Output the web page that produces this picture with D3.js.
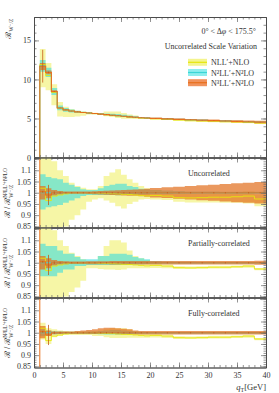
<!DOCTYPE html>
<html lang="en">
<head>
<meta charset="utf-8">
<title>W-/Z ratio scale variation</title>
<script src="https://cdn.jsdelivr.net/npm/d3@7"></script>
<style>
  body { margin: 0; background: #fff; }
  text { font-family: "Liberation Serif", "DejaVu Serif", serif; fill: #333; }
  .axis path { stroke: #444; stroke-width: 0.8; }
  .axis line { stroke: #666; stroke-width: 0.7; }
  .axis text { font-size: 8px; fill: #333; }
</style>
</head>
<body>
<svg width="279" height="393"></svg>
<script>
// bin edges in q_T [GeV]
var edges = [1, 2, 3, 4, 5, 6, 7, 8, 9, 10, 11, 12, 13, 14, 15, 16, 17, 18, 19, 20,
             22, 24, 26, 28, 30, 32, 34, 36, 38, 40];

// main panel: R_{W-/Z}
var orangeMain   = [11.7, 10.9, 8.45, 6.35, 6.1, 5.95, 5.85, 5.77, 5.7, 5.63, 5.56, 5.49, 5.42, 5.35, 5.28, 5.21, 5.15, 5.1, 5.06, 5.01, 4.95, 4.89, 4.83, 4.78, 4.73, 4.68, 4.63, 4.58, 4.53];
var orangeMainLo = [11.2, 10.65, 8.3, 6.28, 6.04, 5.9, 5.81, 5.74, 5.67, 5.6, 5.53, 5.45, 5.38, 5.31, 5.24, 5.16, 5.1, 5.04, 4.99, 4.93, 4.86, 4.79, 4.72, 4.66, 4.6, 4.54, 4.48, 4.42, 4.35];
var orangeMainHi = [12.1, 11.15, 8.6, 6.42, 6.16, 6.0, 5.9, 5.81, 5.74, 5.67, 5.6, 5.54, 5.47, 5.4, 5.33, 5.27, 5.21, 5.16, 5.12, 5.08, 5.04, 4.99, 4.94, 4.9, 4.86, 4.82, 4.78, 4.74, 4.7];
var cyanMain     = [11.75, 10.95, 8.45, 6.35, 6.1, 5.95, 5.85, 5.77, 5.7, 5.63, 5.56, 5.49, 5.42, 5.35, 5.28, 5.21, 5.15, 5.1, 5.06, 5.01, 4.95, 4.89, 4.83, 4.78, 4.73, 4.68, 4.63, 4.58, 4.53];
var cyanMainLo   = [11.0, 10.3, 8.0, 6.05, 5.85, 5.78, 5.72, 5.7, 5.64, 5.58, 5.5, 5.43, 5.37, 5.3, 5.23, 5.16, 5.1, 5.06, 5.02, 4.97, 4.92, 4.86, 4.8, 4.76, 4.71, 4.66, 4.61, 4.56, 4.51];
var cyanMainHi   = [12.5, 11.5, 8.9, 6.65, 6.35, 6.15, 6.0, 5.86, 5.78, 5.7, 5.68, 5.65, 5.6, 5.56, 5.48, 5.37, 5.28, 5.2, 5.14, 5.07, 5.0, 4.93, 4.86, 4.81, 4.76, 4.71, 4.65, 4.6, 4.55];
var yellowMain   = [11.9, 10.5, 8.35, 6.3, 6.08, 5.95, 5.85, 5.77, 5.7, 5.63, 5.55, 5.47, 5.4, 5.33, 5.25, 5.17, 5.1, 5.05, 5.0, 4.95, 4.88, 4.79, 4.72, 4.67, 4.64, 4.58, 4.55, 4.51, 4.41];
var yellowMainLo = [9.0, 8.6, 6.7, 5.25, 5.2, 5.2, 5.25, 5.35, 5.5, 5.5, 5.45, 5.3, 5.2, 5.05, 4.95, 4.98, 4.97, 4.95, 4.95, 4.87, 4.82, 4.7, 4.62, 4.57, 4.52, 4.48, 4.43, 4.39, 4.32];
var yellowMainHi = [13.9, 12.1, 9.4, 7.1, 6.5, 6.2, 6.0, 5.9, 5.8, 5.72, 5.7, 5.9, 5.9, 5.9, 5.7, 5.52, 5.38, 5.2, 5.15, 5.0, 4.95, 4.87, 4.8, 4.76, 4.7, 4.66, 4.62, 4.57, 4.5];
var orangeErrMain = [2.1, 0.1, 0.06, 0.04, 0.03, 0.03, 0.03, 0.03, 0.03, 0.03, 0.03, 0.03, 0.03, 0.03, 0.03, 0.03, 0.03, 0.03, 0.03, 0.03, 0.03, 0.03, 0.03, 0.03, 0.03, 0.03, 0.03, 0.03, 0.03];

// ratio panels: central values (same in every panel)
var yellowRatio = [1.02, 0.965, 0.985, 0.99, 0.995, 1.0, 1.0, 1.0, 1.0, 1.0, 0.998, 0.997, 0.996, 0.995, 0.993, 0.992, 0.99, 0.988, 0.986, 0.988, 0.985, 0.978, 0.977, 0.978, 0.98, 0.98, 0.982, 0.985, 0.972];
var cyanRatio   = [1, 1, 1, 1, 1, 1, 1, 1, 1, 1, 1, 1, 1, 1, 1, 1, 1, 1, 1, 1, 1, 1, 1, 1, 1, 1, 1, 1, 1];
var orangeRatio = [1.004, 0.99, 1.0, 1.0, 1.0, 1.0, 1.0, 1.0, 1.0, 1.0, 1.0, 1.0, 1.0, 1.0, 1.0, 1.0, 1.0, 1.0, 1.0, 1.0, 1.0, 1.0, 1.0, 1.0, 1.0, 1.0, 1.0, 1.0, 1.0];
var orangeErrRatio = [0.004, 0.045, 0.006, 0.004, 0.003, 0.003, 0.003, 0.003, 0.003, 0.003, 0.003, 0.003, 0.003, 0.003, 0.003, 0.003, 0.003, 0.003, 0.003, 0.003, 0.003, 0.003, 0.003, 0.003, 0.003, 0.003, 0.003, 0.003, 0.003];

// uncorrelated
var uncYellowLo = [0.75, 0.75, 0.82, 0.845, 0.85, 0.88, 0.9, 0.925, 0.96, 0.97, 0.975, 0.965, 0.955, 0.94, 0.93, 0.95, 0.96, 0.97, 0.972, 0.97, 0.968, 0.96, 0.956, 0.956, 0.956, 0.955, 0.955, 0.952, 0.94];
var uncYellowHi = [1.25, 1.25, 1.14, 1.1, 1.075, 1.045, 1.03, 1.022, 1.015, 1.015, 1.03, 1.075, 1.09, 1.105, 1.08, 1.06, 1.045, 1.03, 1.02, 1.012, 1.005, 0.998, 0.997, 0.998, 1.0, 1.0, 1.002, 1.005, 0.992];
var uncCyanLo   = [0.925, 0.935, 0.94, 0.945, 0.955, 0.965, 0.975, 0.985, 0.99, 0.99, 0.99, 0.99, 0.99, 0.989, 0.99, 0.99, 0.991, 0.992, 0.993, 0.994, 0.994, 0.995, 0.995, 0.996, 0.996, 0.996, 0.997, 0.997, 0.997];
var uncCyanHi   = [1.082, 1.07, 1.065, 1.06, 1.045, 1.035, 1.025, 1.015, 1.012, 1.012, 1.02, 1.03, 1.035, 1.04, 1.04, 1.03, 1.025, 1.018, 1.015, 1.012, 1.01, 1.008, 1.006, 1.005, 1.005, 1.004, 1.004, 1.004, 1.004];
var uncOrangeLo = [0.97, 0.975, 0.988, 0.992, 0.994, 0.995, 0.995, 0.995, 0.994, 0.993, 0.992, 0.991, 0.99, 0.989, 0.988, 0.987, 0.986, 0.984, 0.982, 0.979, 0.976, 0.973, 0.97, 0.967, 0.964, 0.961, 0.958, 0.955, 0.952];
var uncOrangeHi = [1.03, 1.02, 1.012, 1.008, 1.006, 1.005, 1.005, 1.005, 1.006, 1.007, 1.008, 1.009, 1.01, 1.011, 1.012, 1.013, 1.014, 1.016, 1.018, 1.021, 1.024, 1.027, 1.03, 1.033, 1.036, 1.039, 1.042, 1.045, 1.048];

// partially correlated
var parYellowLo = [0.75, 0.75, 0.8, 0.83, 0.85, 0.87, 0.89, 0.92, 0.975, 0.975, 0.972, 0.97, 0.97, 0.968, 0.97, 0.975, 0.975, 0.975, 0.975, 0.976, 0.975, 0.972, 0.972, 0.973, 0.974, 0.974, 0.976, 0.978, 0.967];
var parYellowHi = [1.25, 1.25, 1.145, 1.1, 1.075, 1.045, 1.03, 1.015, 1.005, 1.005, 1.03, 1.075, 1.1, 1.1, 1.09, 1.055, 1.03, 1.02, 1.012, 1.0, 0.992, 0.984, 0.983, 0.984, 0.986, 0.986, 0.988, 0.99, 0.977];
var parCyanLo   = [0.94, 0.94, 0.94, 0.955, 0.97, 0.97, 0.985, 0.985, 0.99, 0.99, 0.99, 0.99, 0.99, 0.99, 0.99, 0.99, 0.992, 0.993, 0.994, 0.995, 0.996, 0.996, 0.997, 0.997, 0.997, 0.997, 0.997, 0.997, 0.997];
var parCyanHi   = [1.085, 1.075, 1.075, 1.055, 1.04, 1.04, 1.025, 1.015, 1.015, 1.015, 1.03, 1.03, 1.04, 1.04, 1.04, 1.035, 1.025, 1.02, 1.015, 1.008, 1.005, 1.004, 1.004, 1.003, 1.003, 1.003, 1.003, 1.003, 1.003];
var parOrangeLo = [0.97, 0.975, 0.988, 0.992, 0.993, 0.994, 0.994, 0.994, 0.993, 0.993, 0.993, 0.993, 0.992, 0.992, 0.992, 0.992, 0.992, 0.992, 0.992, 0.992, 0.992, 0.992, 0.992, 0.992, 0.992, 0.992, 0.992, 0.992, 0.991];
var parOrangeHi = [1.03, 1.02, 1.012, 1.008, 1.007, 1.006, 1.006, 1.006, 1.007, 1.007, 1.007, 1.007, 1.008, 1.008, 1.008, 1.008, 1.008, 1.008, 1.008, 1.008, 1.008, 1.008, 1.008, 1.008, 1.008, 1.008, 1.008, 1.008, 1.009];

// fully correlated
var fulYellowLo = [0.97, 0.95, 0.98, 0.985, 0.99, 0.99, 0.99, 0.99, 0.99, 0.985, 0.985, 0.98, 0.977, 0.977, 0.977, 0.978, 0.978, 0.978, 0.978, 0.979, 0.977, 0.972, 0.972, 0.973, 0.974, 0.974, 0.976, 0.978, 0.967];
var fulYellowHi = [1.045, 1.02, 1.015, 1.01, 1.008, 1.005, 1.005, 1.005, 1.005, 1.008, 1.01, 1.015, 1.02, 1.02, 1.02, 1.015, 1.008, 1.0, 0.995, 0.995, 0.992, 0.984, 0.983, 0.984, 0.986, 0.986, 0.988, 0.99, 0.977];
var fulCyanLo   = [0.985, 0.99, 0.993, 0.995, 0.996, 0.996, 0.996, 0.996, 0.995, 0.994, 0.993, 0.992, 0.992, 0.992, 0.993, 0.994, 0.995, 0.996, 0.997, 0.997, 0.997, 0.997, 0.997, 0.997, 0.997, 0.997, 0.997, 0.997, 0.997];
var fulCyanHi   = [1.015, 1.01, 1.007, 1.005, 1.004, 1.004, 1.004, 1.004, 1.005, 1.006, 1.008, 1.01, 1.012, 1.012, 1.01, 1.008, 1.005, 1.004, 1.003, 1.003, 1.003, 1.003, 1.003, 1.003, 1.003, 1.003, 1.003, 1.003, 1.003];
var fulOrangeLo = [0.975, 0.985, 0.993, 0.994, 0.994, 0.994, 0.994, 0.994, 0.994, 0.994, 0.994, 0.994, 0.994, 0.993, 0.993, 0.994, 0.992, 0.992, 0.992, 0.992, 0.992, 0.992, 0.992, 0.992, 0.992, 0.992, 0.992, 0.992, 0.992];
var fulOrangeHi = [1.03, 1.01, 1.006, 1.006, 1.006, 1.006, 1.008, 1.01, 1.012, 1.016, 1.02, 1.022, 1.022, 1.02, 1.018, 1.015, 1.01, 1.008, 1.008, 1.008, 1.008, 1.008, 1.008, 1.008, 1.008, 1.008, 1.008, 1.008, 1.008];

var seriesNames = ["NLL\u2032+NLO", "N\u00b2LL\u2032+N\u00b2LO", "N\u00b3LL\u2032+N\u00b2LO"];
var panelTitles = ["Uncorrelated", "Partially-correlated", "Fully-correlated"];
var xTickLabels = [0, 5, 10, 15, 20, 25, 30, 35, 40];
var mainTickLabels = [0, 5, 10, 15];
var ratioTickLabels = [0.85, 0.9, 0.95, 1, 1.05, 1.1, 1.15];

// colours
var yellowFill = "#f6f6a6", yellowLine = "#e6e60c";
var cyanFill = "rgba(60,222,222,0.6)", cyanLine = "#3ad6d6";
var orangeFill = "rgba(226,112,32,0.72)", orangeLine = "#e8701c", errColor = "#c65c18";

var svg = d3.select("svg");
var defs = svg.append("defs");

var x = d3.scaleLinear().domain([0, 40]).range([34, 266]);
var xMinor = d3.range(0, 41, 1);

var layout = [
    {top: 17, bottom: 157.5, domain: [0, 18]},
    {top: 157.5, bottom: 227.5, domain: [0.845, 1.157]},
    {top: 227.5, bottom: 297.5, domain: [0.845, 1.157]},
    {top: 297.5, bottom: 367.5, domain: [0.845, 1.157]}
];

var ratioBands = [
    [[uncYellowLo, uncYellowHi], [uncCyanLo, uncCyanHi], [uncOrangeLo, uncOrangeHi]],
    [[parYellowLo, parYellowHi], [parCyanLo, parCyanHi], [parOrangeLo, parOrangeHi]],
    [[fulYellowLo, fulYellowHi], [fulCyanLo, fulCyanHi], [fulOrangeLo, fulOrangeHi]]
];

function bandPts(lo, hi) {
    return edges.map(function(e, i) {
        var j = Math.min(i, lo.length - 1);
        return {q: e, lo: lo[j], hi: hi[j]};
    });
}
function linePts(v) {
    return edges.map(function(e, i) {
        return {q: e, v: v[Math.min(i, v.length - 1)]};
    });
}

function frame(g, y, p, yMajor, yMinor, labelFn, xLabels) {
    var add = function(axis, tx, ty) {
        g.append("g").attr("class", "axis")
            .attr("transform", "translate(" + tx + "," + ty + ")")
            .call(axis);
    };
    // minor ticks
    add(d3.axisBottom(x).tickValues(xMinor).tickSize(-2.5).tickSizeOuter(0).tickFormat(""), 0, p.bottom);
    add(d3.axisTop(x).tickValues(xMinor).tickSize(-2.5).tickSizeOuter(0).tickFormat(""), 0, p.top);
    add(d3.axisLeft(y).tickValues(yMinor).tickSize(-2.5).tickSizeOuter(0).tickFormat(""), 34, 0);
    add(d3.axisRight(y).tickValues(yMinor).tickSize(-2.5).tickSizeOuter(0).tickFormat(""), 266, 0);
    // major ticks
    add(d3.axisBottom(x).tickValues(xTickLabels).tickSize(-5).tickSizeOuter(0).tickPadding(5)
        .tickFormat(xLabels ? d3.format("d") : ""), 0, p.bottom);
    add(d3.axisTop(x).tickValues(xTickLabels).tickSize(-5).tickSizeOuter(0).tickFormat(""), 0, p.top);
    add(d3.axisLeft(y).tickValues(yMajor).tickSize(-5).tickSizeOuter(0).tickPadding(3).tickFormat(labelFn), 34, 0);
    add(d3.axisRight(y).tickValues(yMajor).tickSize(-5).tickSizeOuter(0).tickFormat(""), 266, 0);
}

function drawPanel(k, p, bands, centrals, errs) {
    var y = d3.scaleLinear().domain(p.domain).range([p.bottom, p.top]);
    var id = "clip" + k;
    defs.append("clipPath").attr("id", id).append("rect")
        .attr("x", x.range()[0]).attr("y", p.top)
        .attr("width", x.range()[1] - x.range()[0]).attr("height", p.bottom - p.top);
    var g = svg.append("g").attr("clip-path", "url(#" + id + ")");

    var area = d3.area().curve(d3.curveStepAfter)
        .x(function(d) { return x(d.q); })
        .y0(function(d) { return y(d.lo); })
        .y1(function(d) { return y(d.hi); });
    var line = d3.line().curve(d3.curveStepAfter)
        .x(function(d) { return x(d.q); })
        .y(function(d) { return y(d.v); });

    var fills = [yellowFill, cyanFill, orangeFill];
    var strokes = [yellowLine, cyanLine, orangeLine];
    bands.forEach(function(b, i) {
        g.append("path").datum(bandPts(b[0], b[1]))
            .attr("d", area).attr("fill", fills[i]).attr("stroke", "none");
    });
    centrals.forEach(function(c, i) {
        var pts = linePts(c);
        if (k === 0) pts.unshift({q: edges[0], v: 0});
        g.append("path").datum(pts)
            .attr("d", line).attr("fill", "none")
            .attr("stroke", strokes[i]).attr("stroke-width", i === 2 ? 1.1 : 0.9);
    });
    if (k > 0) {
        // first bin edge of the N3LL' curve runs off the ratio scale
        g.append("line")
            .attr("x1", x(edges[0])).attr("x2", x(edges[0]))
            .attr("y1", p.top).attr("y2", p.bottom)
            .attr("stroke", orangeLine).attr("stroke-width", 1);
    }
    // error bars of the N3LL' prediction
    var orangeC = centrals[2];
    g.selectAll(".err").data(errs).enter().append("line")
        .attr("x1", function(d, i) { return x((edges[i] + edges[i + 1]) / 2); })
        .attr("x2", function(d, i) { return x((edges[i] + edges[i + 1]) / 2); })
        .attr("y1", function(d, i) { return y(orangeC[i] + d); })
        .attr("y2", function(d, i) { return y(orangeC[i] - d); })
        .attr("stroke", errColor).attr("stroke-width", 0.8);

    var fg = svg.append("g");
    if (k === 0) {
        frame(fg, y, p, mainTickLabels, d3.range(0, 19, 1), d3.format("d"), false);
    } else {
        frame(fg, y, p, ratioTickLabels, d3.range(85, 116, 1).map(function(v) { return v / 100; }),
            function(d) { return d > 1.12 ? "" : String(d); }, k === 3);
    }
    return y;
}

// main panel
drawPanel(0, layout[0],
    [[yellowMainLo, yellowMainHi], [cyanMainLo, cyanMainHi], [orangeMainLo, orangeMainHi]],
    [yellowMain, cyanMain, orangeMain], orangeErrMain);

// ratio panels
ratioBands.forEach(function(b, i) {
    var p = layout[i + 1];
    drawPanel(i + 1, p, b, [yellowRatio, cyanRatio, orangeRatio], orangeErrRatio);
    svg.append("text").attr("x", 188).attr("y", p.top + 18.5)
        .style("font-size", "8px").text(panelTitles[i]);
});

// y titles (rotated)
function yTitle(bx, by, anchor, lead) {
    var g = svg.append("g").attr("transform", "translate(" + bx + "," + by + ") rotate(-90)");
    var t = g.append("text").style("font-size", "8px");
    t.append("tspan").text(lead);
    var supLen = 0;
    if (anchor === "middle") {
        var sup = t.append("tspan").attr("dy", -3).style("font-size", "5.5px").text("N\u00b2LL\u2032+N\u00b2LO");
        supLen = sup.node().getComputedTextLength();
    }
    var sub = t.append("tspan").style("font-size", "5.5px").text("W\u207b/Z");
    sub.attr("dy", anchor === "middle" ? 5.5 : 2.5).attr("dx", -supLen);
    var w = t.node().getBBox().width;
    t.attr("x", anchor === "middle" ? -w / 2 : -w);
}
yTitle(10.5, 17, "end", "\u211b");
layout.slice(1).forEach(function(p) {
    yTitle(10, (p.top + p.bottom) / 2, "middle", "\u211b / \u211b");
});

// x title
var xt = svg.append("text").attr("x", 266).attr("y", 390).attr("text-anchor", "end").style("font-size", "8.5px");
xt.append("tspan").style("font-style", "italic").text("q");
xt.append("tspan").attr("dy", 2).style("font-size", "6px").text("T");
xt.append("tspan").attr("dy", -2).text("[GeV]");

// header texts
var hd = svg.append("text").attr("x", 256).attr("y", 34).attr("text-anchor", "end").style("font-size", "8px");
hd.append("tspan").text("0\u00b0 < \u0394");
hd.append("tspan").style("font-style", "italic").text("\u03c6");
hd.append("tspan").text(" < 175.5\u00b0");
svg.append("text").attr("x", 257).attr("y", 49).attr("text-anchor", "end")
    .style("font-size", "8px").text("Uncorrelated Scale Variation");

// legend
var legFill = ["#f4f48e", "#8ceeee", "#f0925c"];
var legLine = [yellowLine, cyanLine, orangeLine];
seriesNames.forEach(function(name, i) {
    var cy = 62.3 + i * 10.2;
    svg.append("rect").attr("x", 188).attr("y", cy - 3.5).attr("width", 19).attr("height", 7)
        .attr("fill", legFill[i]);
    svg.append("line").attr("x1", 188).attr("x2", 207).attr("y1", cy).attr("y2", cy)
        .attr("stroke", legLine[i]).attr("stroke-width", 1.2);
    svg.append("text").attr("x", 211).attr("y", cy + 3).style("font-size", "8px").text(name);
});
</script>
</body>
</html>
